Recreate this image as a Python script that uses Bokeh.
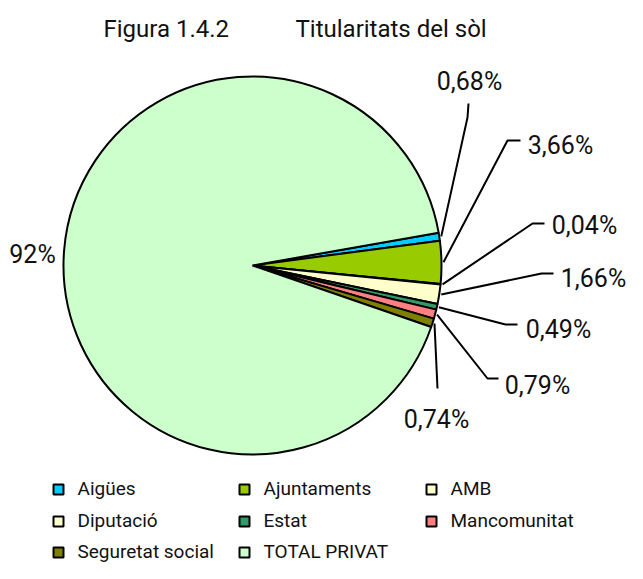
import math
from bokeh.plotting import figure
from bokeh.models import Range1d, ColumnDataSource
from bokeh.core.properties import value
from bokeh.embed import file_html
from bokeh.resources import INLINE

# ---------------- data ----------------
categories = ["Aigües", "Ajuntaments", "AMB", "Diputació", "Estat",
              "Mancomunitat", "Seguretat social", "TOTAL PRIVAT"]
values = [0.68, 3.66, 0.04, 1.66, 0.49, 0.79, 0.74, 92]
pct_labels = ["0,68%", "3,66%", "0,04%", "1,66%", "0,49%", "0,79%", "0,74%", "92%"]
title_left = "Figura 1.4.2"
title_right = "Titularitats del sòl"

# ---------------- style / layout ----------------
colors = ["#00CCFF", "#99CC00", "#FFFFCC", "#FFFFCC", "#339966",
          "#FF8080", "#808000", "#CCFFCC"]
FONT = value("Roboto")
W, H = 627, 563


def Y(sy):
    # convert a picture y (from the top) to data y
    return H - sy


def YT(baseline, size):
    # text anchor for a wanted baseline (empirical offset of the svg text)
    return H - baseline + 0.36 * size


CX, CY, R = 252, Y(265), 189
START_DEG = 10.0
LBL_SIZE = 25
TTL_SIZE = 24
LEG_SIZE = 19

# label placements (picture coordinates): text x centre, baseline y
label_pos = [(469, 90), (560, 154), (584, 234), (593, 287),
             (558, 338), (537, 394), (436, 428), (32, 263)]
# leader lines: elbow point, end point (picture coords); None for no leader
leader_pts = [
    [(467, 117), (468, 103)],
    [(507, 140), (520, 140)],
    [(532, 223), (544, 223)],
    [(541, 273), (553, 273)],
    [(505, 324), (517, 324)],
    [(487, 378), (498, 378)],
    [(437, 388), (437, 388)],
    None,
]

p = figure(width=W, height=H, output_backend="svg", toolbar_location=None,
           x_range=Range1d(0, W), y_range=Range1d(0, H),
           x_axis_type=None, y_axis_type=None, min_border=0)
p.outline_line_color = None
p.grid.visible = False
p.background_fill_color = "white"
p.border_fill_color = "white"

# ---------------- pie ----------------
total = sum(values)
theta0 = math.radians(START_DEG)
starts, ends, mids = [], [], []
cum = 0.0
for v in values:
    a_hi = theta0 - 2 * math.pi * cum / total
    cum += v
    a_lo = theta0 - 2 * math.pi * cum / total
    starts.append(a_lo)
    ends.append(a_hi)
    mids.append((a_lo + a_hi) / 2)

src = ColumnDataSource(dict(start=starts, end=ends, color=colors, cat=categories))
p.wedge(x=CX, y=CY, radius=R, start_angle="start", end_angle="end",
        fill_color="color", line_color="black", line_width=2, source=src)

# ---------------- leader lines ----------------
xs, ys = [], []
for i, pts in enumerate(leader_pts):
    if pts is None:
        continue
    ax = CX + (R + 2) * math.cos(mids[i])
    ay = CY + (R + 2) * math.sin(mids[i])
    xs.append([ax] + [pt[0] for pt in pts])
    ys.append([ay] + [Y(pt[1]) for pt in pts])
p.multi_line(xs=xs, ys=ys, line_color="black", line_width=2)

# ---------------- labels ----------------
p.text(x=[lp[0] for lp in label_pos], y=[YT(lp[1], LBL_SIZE) for lp in label_pos],
       text=pct_labels, text_font=FONT, text_font_size=f"{LBL_SIZE}px",
       text_align="center", text_baseline="alphabetic", text_color="#111111")

# ---------------- title ----------------
p.text(x=[103, 295], y=[YT(37, TTL_SIZE)] * 2, text=[title_left, title_right],
       text_font=FONT, text_font_size=f"{TTL_SIZE}px", text_align="left",
       text_baseline="alphabetic", text_color="#111111")

# ---------------- legend ----------------
col_sq = [58, 244, 431]
row_c = [489, 521, 552]
lx, ly, tx, ty = [], [], [], []
for i, cat in enumerate(categories):
    c, r = i % 3, i // 3
    lx.append(col_sq[c])
    ly.append(Y(row_c[r]))
    tx.append(col_sq[c] + 19)
    ty.append(YT(row_c[r] + 6, LEG_SIZE))
p.rect(x=lx, y=ly, width=10, height=10, fill_color=colors,
       line_color="black", line_width=2)
p.text(x=tx, y=ty, text=categories, text_font=FONT, text_font_size=f"{LEG_SIZE}px",
       text_align="left", text_baseline="alphabetic", text_color="#111111")

open("out.html", "w").write(file_html(p, INLINE))
